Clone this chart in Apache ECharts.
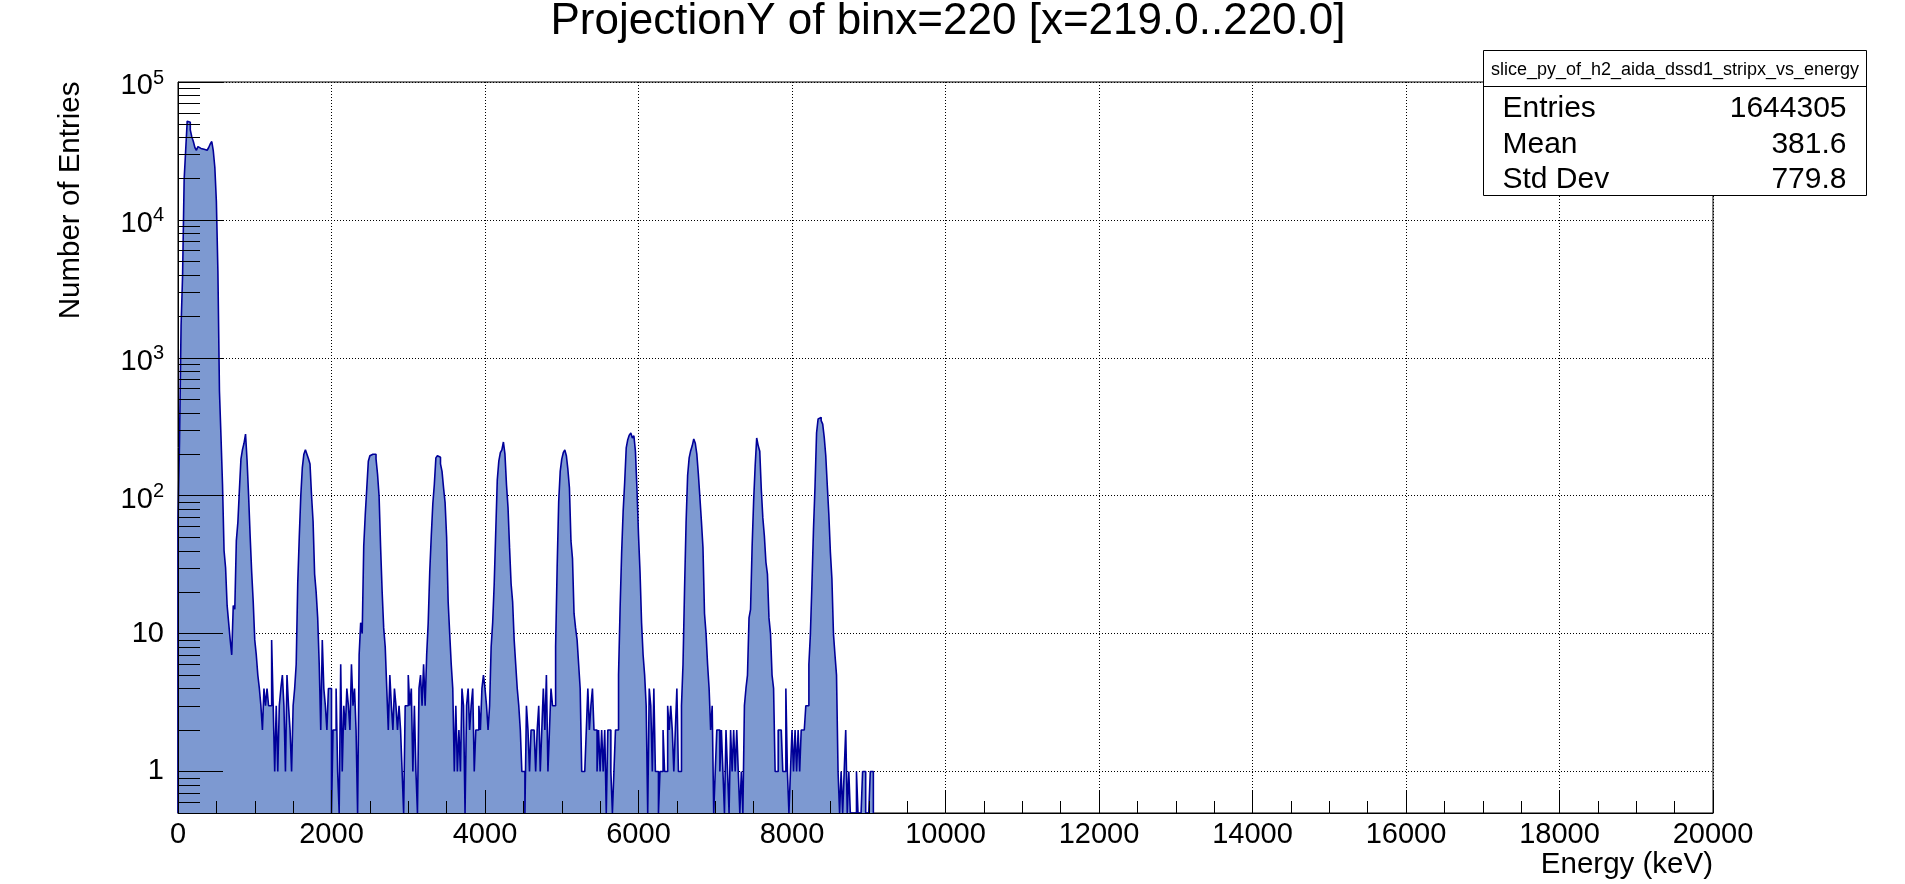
<!DOCTYPE html>
<html>
<head>
<meta charset="utf-8">
<script src="https://cdn.jsdelivr.net/npm/echarts@6/dist/echarts.min.js"></script>
<style>
html,body{margin:0;padding:0;background:#fff;}
#chart{width:1905px;height:884px;}
</style>
</head>
<body>
<div id="chart"></div>
<script>
// ---------------- data ----------------
const titleText = 'ProjectionY of binx=220 [x=219.0..220.0]';
const xAxisTitle = 'Energy (keV)';
const yAxisTitle = 'Number of Entries';
const statsName = 'slice_py_of_h2_aida_dssd1_stripx_vs_energy';
const statsLabels = ['Entries', 'Mean', 'Std Dev'];
const statsValues = ['1644305', '381.6', '779.8'];

const binWidth = 20;          // keV per bin
const xMin = 0, xMax = 20000, xStep = 2000;
const yMin = 0.5, yMax = 100000;
const yMinorMantissas = [2, 3, 4, 5, 6, 7, 8, 9];
const yDecades = [0.1, 1, 10, 100, 1000, 10000];

// counts per 20 keV bin, starting at 0 keV
const counts = [
  64, 250, 1700, 4000, 19600, 32000, 52000, 51000, 45000, 40000,
  37000, 33500, 32000, 34000, 33000, 33500, 32500, 33500, 32000, 32000,
  33500, 35500, 37000, 31600, 24000, 13600, 4200, 575, 270, 120,
  40, 30, 16, 12, 9, 7, 16, 15, 47, 64,
  110, 184, 216, 240, 280, 180, 100, 51, 28, 17,
  9, 7, 5, 4, 3, 2, 4, 3, 4, 3,
  3, 9, 3, 1, 3, 1, 3, 4, 5, 3,
  1, 5, 3, 2, 1, 3, 4, 6, 23, 50,
  100, 160, 200, 215, 200, 185, 170, 100, 65, 27,
  20, 13, 6, 2, 9, 4, 3, 2, 4, 4,
  0, 2, 2, 4, 1, 0, 6, 1, 3, 2,
  4, 3, 2, 6, 3, 4, 2, 0, 7, 12,
  10, 43, 73, 114, 178, 195, 200, 205, 200, 185,
  143, 99, 42, 20, 11, 8, 4, 2, 5, 3,
  2, 4, 3, 2, 3, 2, 1, 0, 3, 3,
  5, 3, 4, 1, 3, 1, 0, 4, 5, 3,
  6, 3, 7, 12, 28, 51, 87, 121, 188, 195,
  190, 170, 150, 114, 89, 50, 17, 10, 6, 4,
  1, 3, 1, 2, 1, 4, 3, 0, 3, 4,
  2, 3, 4, 1, 2, 2, 3, 2, 4, 5,
  4, 3, 2, 3, 8, 12, 23, 55, 130, 178,
  205, 215, 245, 200, 120, 82, 42, 23, 17, 9,
  6, 4, 3, 2, 1, 1, 0, 3, 2, 1,
  2, 2, 2, 1, 2, 3, 1, 2, 4, 2,
  5, 1, 2, 4, 3, 3, 8, 30, 90, 150,
  184, 205, 215, 195, 155, 114, 47, 35, 14, 11,
  9, 6, 4, 1, 1, 1, 2, 4, 2, 3,
  4, 2, 2, 1, 2, 1, 2, 1, 2, 0,
  2, 2, 1, 0, 1, 2, 2, 5, 15, 38,
  77, 125, 222, 255, 275, 285, 262, 272, 210, 111,
  52, 28, 12, 7, 5, 3, 0, 4, 3, 1,
  4, 1, 1, 0, 1, 1, 2, 1, 1, 3,
  2, 3, 2, 1, 2, 4, 1, 1, 3, 6,
  21, 64, 140, 188, 212, 230, 258, 240, 200, 143,
  97, 65, 42, 14, 10, 6, 4, 2, 3, 0,
  1, 2, 2, 1, 2, 1, 0, 2, 1, 0,
  2, 1, 2, 1, 2, 1, 0, 1, 0, 3,
  4, 5, 13, 15, 42, 91, 164, 262, 230, 210,
  111, 69, 51, 33, 27, 13, 10, 5, 4, 1,
  1, 2, 2, 2, 1, 1, 4, 1, 0, 1,
  2, 1, 2, 1, 2, 1, 2, 2, 2, 3,
  3, 6, 10, 23, 57, 117, 285, 360, 370, 350,
  330, 265, 195, 118, 73, 39, 25, 10, 7, 5,
  1, 0, 1, 0, 1, 2, 0, 1, 0, 0,
  0, 0, 1, 0, 0, 0, 1, 1, 0, 0,
  0, 1, 1
];

// ---------------- build ----------------
const FONT = '"Liberation Sans", Arial, Helvetica, sans-serif';

// histogram outline points: bin lower edges, zero bins drawn at the axis floor
const histPoints = [[xMin, yMin]];
counts.forEach((c, i) => histPoints.push([i * binWidth, c > 0 ? c : yMin]));
histPoints.push([counts.length * binWidth, yMin]);

// log minor tick positions
const yMinorTicks = [];
yDecades.forEach(d => yMinorMantissas.forEach(m => {
  const v = +(m * d).toPrecision(6);
  if (v > yMin && v < yMax) yMinorTicks.push(v);
}));

function yLabel(v) {
  const lg = Math.log10(v);
  const e = Math.round(lg);
  if (Math.abs(lg - e) > 1e-6) return '';
  if (e === 0) return '{b|1}';
  if (e === 1) return '{b|10}';
  return '{bp|10}{s|' + e + '}';
}

const chart = echarts.init(document.getElementById('chart'), null, {renderer: 'canvas'});

const dotted = {color: '#000', width: 1, type: [1, 2]};

const option = {
  animation: false,
  backgroundColor: '#fff',
  grid: {left: 178, right: 192, top: 82, bottom: 71, show: true, borderColor: '#000', borderWidth: 1, backgroundColor: 'transparent'},
  xAxis: [
    {
      type: 'value', min: xMin, max: xMax, interval: xStep, position: 'bottom', z: 0,
      axisLine: {show: false}, axisTick: {show: false}, axisLabel: {show: false},
      splitLine: {show: true, lineStyle: dotted}
    },
    {
      type: 'value', min: xMin, max: xMax, interval: xStep, position: 'bottom', z: 10,
      axisLine: {show: true, onZero: false, lineStyle: {color: '#000', width: 1}},
      axisTick: {show: true, inside: true, length: 23, lineStyle: {color: '#000', width: 1}},
      minorTick: {show: true, splitNumber: 4, length: 12, lineStyle: {color: '#000', width: 1}},
      axisLabel: {show: true, margin: 7, fontSize: 29, fontFamily: FONT, color: '#000',
        formatter: v => String(Math.round(v))},
      splitLine: {show: false}
    }
  ],
  yAxis: [
    {
      type: 'log', logBase: 10, min: yMin, max: yMax, position: 'left', z: 0,
      axisLine: {show: false}, axisTick: {show: false}, axisLabel: {show: false},
      splitLine: {show: true, lineStyle: dotted}
    },
    {
      type: 'log', logBase: 10, min: yMin, max: yMax, position: 'left', z: 10,
      axisLine: {show: true, onZero: false, lineStyle: {color: '#000', width: 1}},
      axisTick: {show: true, inside: true, length: 45, lineStyle: {color: '#000', width: 1}},
      axisLabel: {
        show: true, margin: 14, color: '#000', fontFamily: FONT, fontSize: 29,
        formatter: yLabel,
        rich: {
          b: {fontSize: 29, fontFamily: FONT, color: '#000'},
          bp: {fontSize: 29, fontFamily: FONT, color: '#000', padding: [8, 0, 0, 0]},
          s: {fontSize: 20, fontFamily: FONT, color: '#000', padding: [0, 0, 8, 0]}
        }
      },
      splitLine: {show: false}
    }
  ],
  series: [
    {
      type: 'line', xAxisIndex: 0, yAxisIndex: 0, data: histPoints, step: 'end',
      showSymbol: false, symbol: 'none', silent: true, clip: true, z: 2,
      lineStyle: {color: '#000099', width: 1.6},
      areaStyle: {color: '#7d99d1', opacity: 1, origin: 'start'}
    },
    {
      type: 'custom', xAxisIndex: 0, yAxisIndex: 0, z: 20, silent: true, clip: false,
      data: yMinorTicks.map(v => [xMin, v]),
      renderItem: function (params, api) {
        const p = api.coord([api.value(0), api.value(1)]);
        const y = Math.round(p[1]) + 0.5;
        return {
          type: 'line',
          shape: {x1: p[0], y1: y, x2: p[0] + 22, y2: y},
          style: {stroke: '#000', lineWidth: 1}
        };
      }
    }
  ],
  graphic: [
    {
      type: 'text', x: 948, y: 21.5, z: 100,
      style: {text: titleText, font: '44px ' + FONT, fill: '#000', align: 'center', verticalAlign: 'middle', textAlign: 'center', textVerticalAlign: 'middle'}
    },
    {
      type: 'text', x: 1713, y: 865, z: 100,
      style: {text: xAxisTitle, font: '29.5px ' + FONT, fill: '#000', align: 'right', verticalAlign: 'middle', textAlign: 'right', textVerticalAlign: 'middle'}
    },
    {
      type: 'text', x: 70.5, y: 81.5, rotation: Math.PI / 2, z: 100,
      style: {text: yAxisTitle, font: '29.5px ' + FONT, fill: '#000', align: 'right', verticalAlign: 'middle', textAlign: 'right', textVerticalAlign: 'middle'}
    },
    {
      type: 'rect', z: 100,
      shape: {x: 1483.5, y: 50.5, width: 383, height: 145},
      style: {fill: '#fff', stroke: '#000', lineWidth: 1}
    },
    {
      type: 'line', z: 101,
      shape: {x1: 1483.5, y1: 86.5, x2: 1866.5, y2: 86.5},
      style: {stroke: '#000', lineWidth: 1}
    },
    {
      type: 'text', x: 1675, y: 70.5, z: 101,
      style: {text: statsName, font: '18px ' + FONT, fill: '#000', align: 'center', verticalAlign: 'middle', textAlign: 'center', textVerticalAlign: 'middle'}
    }
  ].concat(statsLabels.map((t, i) => ({
      type: 'text', x: 1502.5, y: 109 + i * 35.6, z: 101,
      style: {text: t, font: '30px ' + FONT, fill: '#000', align: 'left', verticalAlign: 'middle', textAlign: 'left', textVerticalAlign: 'middle'}
  }))).concat(statsValues.map((t, i) => ({
      type: 'text', x: 1846.5, y: 109 + i * 35.6, z: 101,
      style: {text: t, font: '30px ' + FONT, fill: '#000', align: 'right', verticalAlign: 'middle', textAlign: 'right', textVerticalAlign: 'middle'}
  })))
};

chart.setOption(option);
</script>
</body>
</html>
